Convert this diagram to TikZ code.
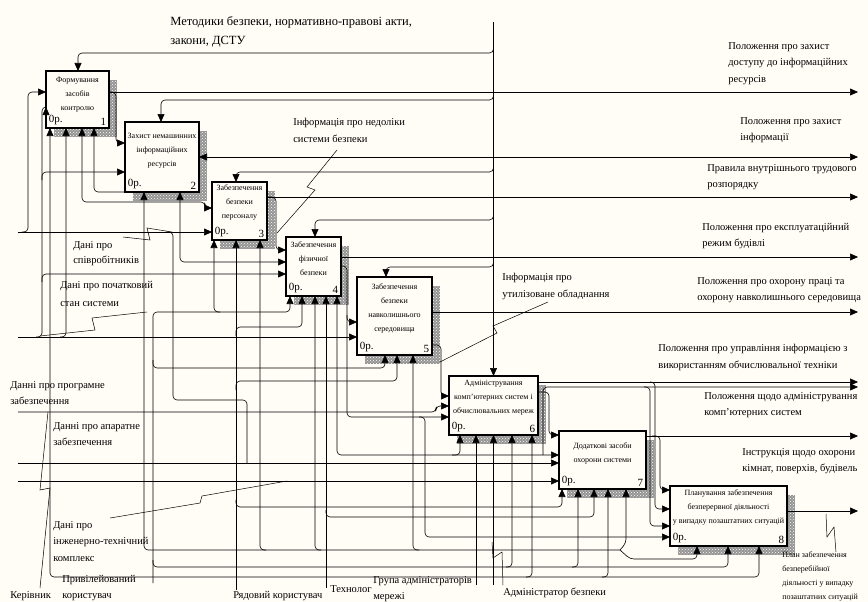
\documentclass[tikz,border=0pt]{standalone}
\usepackage{fontspec}
\setmainfont{Liberation Serif}
\usetikzlibrary{arrows.meta,patterns}
\definecolor{paper}{HTML}{FFFDF6}
\definecolor{hatch}{HTML}{FFFDF6}

\begin{document}
\begin{tikzpicture}[x=1pt,y=-1pt,line width=0.6pt,
    >={Triangle[length=8pt,width=7pt]},
    box/.style={draw,line width=2pt,fill=paper,inner sep=0pt,outer sep=0pt},
    ttl/.style={font=\fontsize{8}{14}\selectfont,align=center,inner sep=0pt,anchor=north},
    num/.style={font=\fontsize{11}{12}\selectfont,inner sep=2.5pt},
    flow/.style={->,rounded corners=4pt},
    flows/.style={<->,rounded corners=4pt},
    wire/.style={rounded corners=4pt},
    zig/.style={line width=0.5pt},
    note/.style={font=\fontsize{10.5}{16.5}\selectfont,align=left,anchor=north west,inner sep=0pt},
    minor/.style={note,font=\fontsize{8}{14}\selectfont},
    hatchfill/.style={fill=black!42}]

  \useasboundingbox (0,0) rectangle (868,602);
  \fill[paper] (0,0) rectangle (868,602);

  % shadows of the boxes
  \foreach \xa/\ya/\xb/\yb in {46/71/109/128,125/122/199/192,212/182/267/240,
      286/237/341/296,357/277/432/355,449/376/538/435,559/431/646/489,670/486/787/546} {
    \fill[hatchfill] (\xa+8,\ya+9) rectangle (\xb+8,\yb+9);
    \fill[pattern=crosshatch dots,pattern color=hatch] (\xa+8,\ya+9) rectangle (\xb+8,\yb+9);
  }

  % activity boxes
  \node[box,minimum width=63pt,minimum height=57pt] (b1) at (77.5,99.5) {};
  \node[box,minimum width=74pt,minimum height=70pt] (b2) at (162,157) {};
  \node[box,minimum width=55pt,minimum height=58pt] (b3) at (239.5,211) {};
  \node[box,minimum width=55pt,minimum height=59pt] (b4) at (313.5,266.5) {};
  \node[box,minimum width=75pt,minimum height=78pt] (b5) at (394.5,316) {};
  \node[box,minimum width=89pt,minimum height=59pt] (b6) at (493.5,405.5) {};
  \node[box,minimum width=87pt,minimum height=58pt] (b7) at (602.5,460) {};
  \node[box,minimum width=117pt,minimum height=60pt] (b8) at (728.5,516) {};

  \node[ttl] (t1) at ([yshift=-5.5pt]b1.north) {Формування\\засобів\\контролю};
  \node[ttl] (t2) at ([yshift=-11pt]b2.north) {Захист немашинних\\інформаційних\\ресурсів};
  \node[ttl] (t3) at ([yshift=-2.5pt]b3.north) {Забезпечення\\безпеки\\персоналу};
  \node[ttl] (t4) at ([yshift=-4.5pt]b4.north) {Забезпечення\\фізичної\\безпеки};
  \node[ttl] (t5) at ([yshift=-6.5pt]b5.north) {Забезпечення\\безпеки\\навколишнього\\середовища};
  \node[ttl] (t6) at ([yshift=-3.5pt]b6.north) {Адміністрування\\комп'ютерних систем і\\обчислювальних мереж};
  \node[ttl] (t7) at ([yshift=-11.5pt]b7.north) {Додаткові засоби\\охорони системи};
  \node[ttl] (t8) at ([yshift=-3.5pt]b8.north) {Планування забезпечення\\безперервної діяльності\\у випадку позаштатних ситуацій};

  \foreach \b/\k in {b1/1,b2/2,b3/3,b4/4,b5/5,b6/6,b7/7,b8/8} {
    \node[num,anchor=south west] (\b p) at (\b.south west) {0р.};
    \node[num,anchor=south east] (\b n) at (\b.south east) {\k};
  }

  % free ends on the border
  \coordinate (c0) at (493.5,22);
  \coordinate (i1) at (18,232);
  \coordinate (i2) at (18,337);
  \coordinate (i3) at (18,412);
  \coordinate (i4) at (18,463);
  \coordinate (i5) at (18,481);
  \coordinate (o1) at (858,92);
  \coordinate (o2) at (858,157);
  \coordinate (o3) at (858,197);
  \coordinate (o4) at (858,257);
  \coordinate (o5) at (858,312);
  \coordinate (o6) at (858,382);
  \coordinate (o7) at (858,387);
  \coordinate (o8) at (858,436);
  \coordinate (o9) at (858,511);
  \coordinate (m1) at (153,583);
  \coordinate (m2) at (236,590);
  \coordinate (m3) at (326,588);
  \coordinate (m4) at (476,585);
  \coordinate (m5) at (493.5,585);

  % controls
  \draw[flow] (c0) -- (b6.north);
  \foreach \b/\y/\xa in {b1/53/78,b2/100/161,b3/172/236,b4/220/315,b5/267/386}
    \draw[flow] (493.5,\y-10) |- (\xa,\y) -- (\xa,0 |- \b.north);

  % outputs
  \draw[flow] (b1.east |- o1) -- (o1);
  \draw[flows] (b2.east |- o2) -- (o2);
  \draw[flow] (b3.east |- o3) -- (o3);
  \draw[flow] (b4.east |- o4) -- (o4);
  \draw[flow] (b5.east |- o5) -- (o5);
  \draw[flow] (b6.east |- o6) -- (o6);
  \draw[flow] (543,455) |- (o7);
  \draw[flow] (b7.east |- o8) -- (o8);
  \draw[flow] (b8.east |- o9) -- (o9);

  % inputs from the left
  \draw[flow] (i1) -- (b3.west |- i1);
  \draw[flow] (22,232) -| (28,92) -- (b1.west |- 0,92);
  \draw[flow] (i2) -- (b5.west |- i2);
  \draw[flow] (36,337) -| (42,107) -- (b1.west |- 0,107);
  \draw[flow] (42,180) |- (b2.west |- 0,172);
  \draw[flow] (42,282) |- (b4.west |- 0,274);
  \draw[flow] (60,337) -| (66,0 |- b1.south);
  \draw[flow] (i3) -| (436,406) -- (b6.west |- 0,406);
  \draw[flow] (i4) -- (b7.west |- i4);
  \draw[flow] (i5) -- (b7.west |- i5);
  \draw[wire] (166,232) -| (173,400) -| (247,463);

  % links between boxes
  \draw[flows] (82,0 |- b1.south) |- (205,202) |- (b3.west |- 0,208);
  \draw[flow] (b2.south west) -| (94,0 |- b1.south);
  \draw[flows] (180,0 |- b2.south) |- (b4.west |- 0,262);
  \draw[flow] (109,92) -| (116,143) -- (b2.west |- 0,143);
  \draw[flow] (268,197) -| (276,250) -- (b4.west |- 0,250);
  \draw[flow] (b4.east |- 0,266) -| (347,417) -- (b6.west |- 0,417);
  \draw[flow] (347,315) |- (b5.west |- 0,322);
  \draw[flow] (419,417) -| (425,537) -- (b8.west |- 0,537);
  \draw[flow] (b5.east |- 0,345) -| (441,396) -- (b6.west |- 0,396);
  \draw[flow] (b6.east |- 0,392) -| (549,435) -- (b7.west |- 0,435);
  \draw[flows] (337,0 |- b4.south) |- (b7.west |- 0,455);
  \draw[flow] (452,455) -| (460,0 |- b6.south);
  \draw[flow] (652,436) -| (660,490) -- (b8.west |- 0,490);
  \draw[flow] (650,382) -| (655,509) -- (b8.west |- 0,509);
  \draw[flow] (644,387) -| (650,526) -- (b8.west |- 0,526);

  % mechanisms
  \draw[flow] (m1) |- (290,312) -- (290,0 |- b4.south);
  \draw[flow] (220,312) -| (214,0 |- b3.south);
  \draw[flow] (153,360) |- (385,368) -- (385,0 |- b5.south);
  \draw[flow] (153,560) |- (728,567) -- (728,0 |- b8.south);
  \draw[flow] (506,567) -| (512,0 |- b6.south);
  \draw[flow] (572,567) -| (578,0 |- b7.south);

  \draw[flow] (620,550) -| (144,0 |- b2.south);
  \draw[flow] (620,550) -- (626,543) -- (626,0 |- b7.south);
  \draw[flow] (620,550) -- (630,559) -| (697,0 |- b8.south);
  \draw[flow] (266,550) -| (260,0 |- b3.south);
  \draw[flow] (321,550) -| (315,0 |- b4.south);
  \draw[flow] (419,550) -| (413,0 |- b5.south);

  \draw[flow] (m2) -- (236,0 |- b3.south);
  \draw[flow] (236,336) |- (302,327) -- (302,0 |- b4.south);
  \draw[flow] (236,390) |- (397,381) -- (397,0 |- b5.south);
  \draw[flow] (236,500) |- (562,507) -- (562,0 |- b7.south);

  \draw[flow] (m3) -- (326,0 |- b4.south);
  \draw[flow] (326,510) |- (594,517) -- (594,0 |- b7.south);

  \draw[flows] (50,0 |- b1.south) |- (759,577) -- (759,0 |- b8.south);
  \draw[flow] (526,577) -| (532,0 |- b6.south);
  \draw[flow] (602,577) -| (608,0 |- b7.south);

  \draw[flow] (m4) -- (476,0 |- b6.south);
  \draw[flow] (m5) -- (b6.south);

  % label squiggles
  \draw[zig] (337,150) -- (307,187) -- (315,190) -- (277,233);
  \draw[zig] (548,302) -- (493,326) -- (497,333) -- (440,362);
  \draw[zig] (123,237) -- (150,240) -- (147,228) -- (172,232);
  \draw[zig] (147,312) -- (92,318) -- (95,330) -- (40,336);
  \draw[zig] (40,588) -- (50,488) -- (40,490) -- (48,412);
  \draw[zig] (110,518) -- (200,503) -- (202,496) -- (287,481);
  \draw[zig] (492,542) -- (493,558) -- (502,552) -- (503,585);
  \draw[zig] (826,514) -- (827,537) -- (834,527) -- (836,552);

  % labels
  \node[note,font=\fontsize{12.5}{19.5}\selectfont] (n0) at (170,16) {Методики безпеки, нормативно-правові акти,\\закони, ДСТУ};
  \node[note] (r1) at (728,42) {Положення про захист\\доступу до інформаційних\\ресурсів};
  \node[note] (r2) at (740,117) {Положення про захист\\інформації};
  \node[note] (r3) at (707,164) {Правила внутрішнього трудового\\розпорядку};
  \node[note] (r4) at (702,223) {Положення про експлуатаційний\\режим будівлі};
  \node[note] (r5) at (697,277) {Положення про охорону праці та\\охорону навколишнього середовища};
  \node[note] (r6) at (658,344) {Положення про управління інформацією з\\використанням обчислювальної техніки};
  \node[note] (r7) at (704,392) {Положення щодо адміністрування\\комп'ютерних систем};
  \node[note] (r8) at (742,448) {Інструкція щодо охорони\\кімнат, поверхів, будівель};
  \node[minor] (r9) at (782,551) {План забезпечення\\безперебійної\\діяльності у випадку\\позаштатних ситуацій};
  \node[note] (n1) at (293,118) {Інформація про недоліки\\системи безпеки};
  \node[note] (n2) at (502,273) {Інформація про\\утилізоване обладнання};
  \node[note,font=\fontsize{10.5}{15}\selectfont] (l1) at (73,241) {Дані про\\співробітників};
  \node[note,font=\fontsize{10.5}{18}\selectfont] (l2) at (60,281) {Дані про початковий\\стан системи};
  \node[note] (l3) at (10,381) {Данні про програмне\\забезпечення};
  \node[note] (l4) at (53,422) {Данні про апаратне\\забезпечення};
  \node[note] (l5) at (53,521) {Дані про\\інженерно-технічний\\комплекс};
  \node[note] (k1) at (10,591) {Керівник};
  \node[note] (k2) at (62,575) {Привілейований\\користувач};
  \node[note] (k3) at (233,591) {Рядовий користувач};
  \node[note] (k4) at (330,585) {Технолог};
  \node[note] (k5) at (373,576) {Група адміністраторів\\мережі};
  \node[note] (k6) at (503,588) {Адміністратор безпеки};
\end{tikzpicture}
\end{document}
